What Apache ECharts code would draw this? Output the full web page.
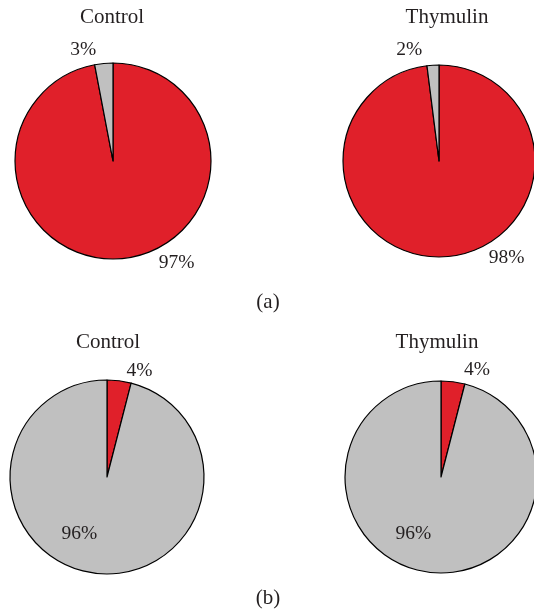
<!DOCTYPE html>
<html>
<head>
<meta charset="utf-8">
<script src="https://cdn.jsdelivr.net/npm/echarts@6/dist/echarts.min.js"></script>
<style>
  html, body { margin: 0; padding: 0; background: #ffffff; }
  #chart { width: 534px; height: 613px; }
</style>
</head>
<body>
<div id="chart"></div>
<script>
// Cell categories shown in every pie (first = red, second = grey)
const categories = ['Positive cells', 'Negative cells'];

// Panel (a) percentages
const panelAControl = [97, 3];
const panelAThymulin = [98, 2];

// Panel (b) percentages
const panelBControl = [4, 96];
const panelBThymulin = [4, 96];

const groupTitles = ['Control', 'Thymulin', 'Control', 'Thymulin'];
const panelTags = ['(a)', '(b)'];

// Layout of the four pies: centre (px) and radius (px)
const pieLayout = [
  { center: [113, 161], radius: 98 },
  { center: [439, 161], radius: 96 },
  { center: [107, 477], radius: 97 },
  { center: [441, 477], radius: 96 }
];

// Where each percentage sits: [angle clockwise from 12 o'clock (deg), distance from centre (px)]
const labelSpots = [
  [[148, 120], [-15, 115]],
  [[145, 118], [-15, 115]],
  [[17, 111], [206, 63]],
  [[18.6, 113], [206, 63]]
];

const sliceColors = ['#E0202A', '#C0C0C0'];
const serif = '"Liberation Serif", "DejaVu Serif", serif';
const ink = '#231f20';

const seriesValues = [panelAControl, panelAThymulin, panelBControl, panelBThymulin];

const chart = echarts.init(document.getElementById('chart'), null, { renderer: 'canvas' });

const series = seriesValues.map((vals, si) => ({
  type: 'pie',
  center: pieLayout[si].center,
  radius: pieLayout[si].radius,
  startAngle: 90,
  clockwise: true,
  avoidLabelOverlap: false,
  silent: true,
  itemStyle: { borderColor: '#000000', borderWidth: 1.2 },
  label: {
    show: true,
    position: 'outside',
    formatter: p => p.value + '%',
    fontFamily: serif,
    fontSize: 19.5,
    color: ink
  },
  labelLine: { show: false },
  labelLayout: params => {
    const spot = labelSpots[params.seriesIndex][params.dataIndex];
    const c = pieLayout[params.seriesIndex].center;
    const a = spot[0] * Math.PI / 180;
    return {
      x: c[0] + spot[1] * Math.sin(a),
      y: c[1] - spot[1] * Math.cos(a),
      align: 'center',
      verticalAlign: 'middle'
    };
  },
  data: vals.map((v, i) => ({
    name: categories[i],
    value: v,
    itemStyle: { color: sliceColors[i] }
  }))
}));

const titleCentres = [[112, 17], [447, 17], [108, 342], [437, 342]];
const tagCentres = [[268, 303], [268, 599]];

const textStyle = { fontFamily: serif, fontSize: 21, fontWeight: 'normal', color: ink };

const titles = groupTitles.map((t, i) => ({
  text: t,
  left: titleCentres[i][0],
  top: titleCentres[i][1] - 10,
  textAlign: 'center',
  padding: 0,
  textStyle: textStyle
})).concat(panelTags.map((t, i) => ({
  text: t,
  left: tagCentres[i][0],
  top: tagCentres[i][1] - 11,
  textAlign: 'center',
  padding: 0,
  textStyle: textStyle
})));

chart.setOption({
  animation: false,
  backgroundColor: '#ffffff',
  title: titles,
  series: series
});
</script>
</body>
</html>
